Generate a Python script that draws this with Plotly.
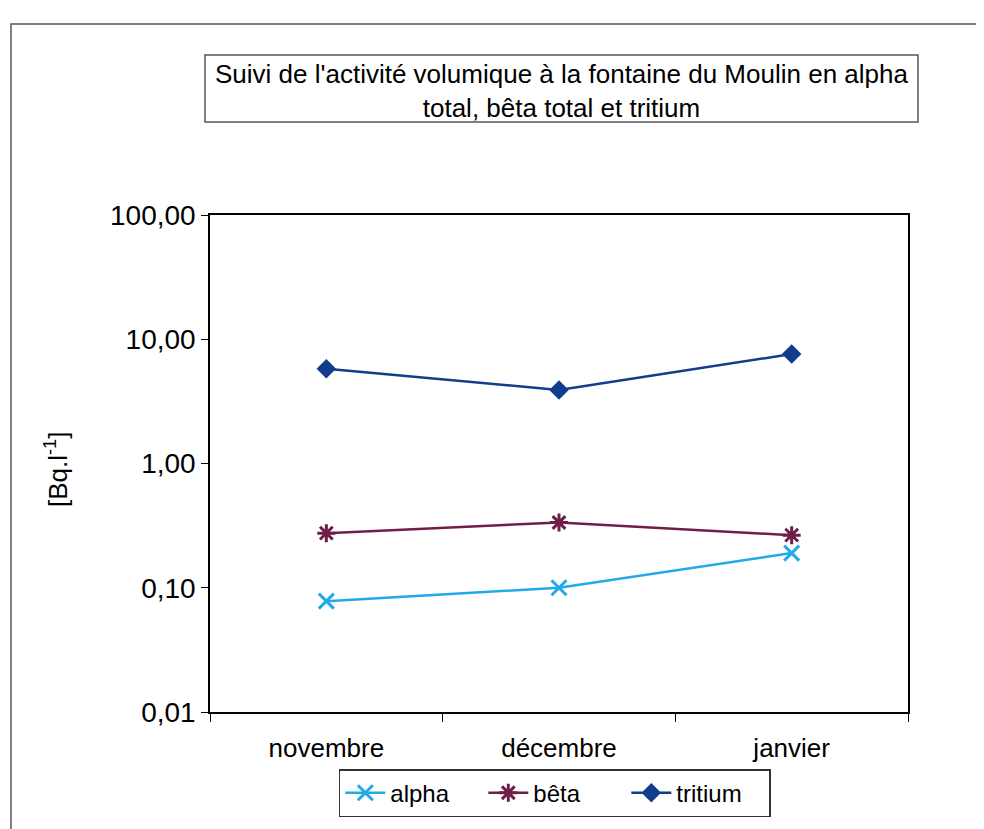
import plotly.graph_objects as go

months = ["novembre", "décembre", "janvier"]
alpha = [0.078, 0.10, 0.19]
beta = [0.275, 0.335, 0.265]
tritium = [5.8, 3.9, 7.6]
tick_vals = [0.01, 0.1, 1, 10, 100]
tick_text = ["0,01", "0,10", "1,00", "10,00", "100,00"]

FONT = "Liberation Sans, Arial, sans-serif"
fig = go.Figure()
fig.add_trace(go.Scatter(x=months, y=alpha, name="alpha", mode="lines+markers",
                         line=dict(color="#22AAE8", width=2.5),
                         marker=dict(symbol="x-thin-open", size=15, line=dict(width=3, color="#22AAE8"))))
fig.add_trace(go.Scatter(x=months, y=beta, name="bêta", mode="lines+markers",
                         line=dict(color="#6E1E48", width=2.5),
                         marker=dict(symbol="asterisk-open", size=15, line=dict(width=3, color="#6E1E48"))))
fig.add_trace(go.Scatter(x=months, y=tritium, name="tritium", mode="lines+markers",
                         line=dict(color="#123C8C", width=2.5),
                         marker=dict(symbol="diamond", size=15, color="#123C8C")))

# page is offset by 8px body margin; page px P -> figure px P-8
fig.update_layout(
    width=976, height=821,
    margin=dict(l=202, r=76, t=207, b=117),
    paper_bgcolor="white", plot_bgcolor="white",
    font=dict(family=FONT, size=25, color="black"),
    showlegend=True,
    legend=dict(orientation="h", x=0.494, xanchor="center", y=-0.115, yanchor="top",
                bordercolor="#333", borderwidth=1.5, font=dict(size=24),
                itemwidth=40, entrywidth=88, entrywidthmode="pixels"),
    xaxis=dict(type="category", showline=True, linecolor="black", linewidth=1.5, mirror=True,
               ticks="outside", tickson="boundaries", ticklen=8, tickcolor="black",
               showgrid=False, tickfont=dict(size=26), range=[-0.5, 2.5],
               ticklabelstandoff=12),
    yaxis=dict(type="log", range=[-2, 2], showline=True, linecolor="black", linewidth=1.5, mirror=True,
               ticks="outside", ticklen=7, tickcolor="black", showgrid=False,
               tickvals=tick_vals, ticktext=tick_text, tickfont=dict(size=28)),
)


def px(x):
    return (x - 210) / 698


def py(y):
    return (712 - y) / 497


fig.add_shape(type="rect", xref="paper", yref="paper", x0=px(11), x1=px(995), y0=py(840), y1=py(24),
              line=dict(color="#555", width=1.5), layer="below")
fig.add_shape(type="rect", xref="paper", yref="paper", x0=px(205), x1=px(918), y0=py(122), y1=py(55),
              line=dict(color="#555", width=1.5), fillcolor="white")
fig.add_annotation(xref="paper", yref="paper", x=px(561), y=py(91), xanchor="center", yanchor="middle",
                   showarrow=False,
                   text="Suivi de l'activité volumique à la fontaine du Moulin en alpha<br>total, bêta total et tritium",
                   font=dict(size=26, family=FONT), align="center")
fig.add_annotation(xref="paper", yref="paper", x=px(56), y=py(470), xanchor="center", yanchor="middle",
                   showarrow=False, textangle=-90, text="[Bq.l<sup>-1</sup>]",
                   font=dict(size=26, family=FONT))

fig.write_html("out.html")
